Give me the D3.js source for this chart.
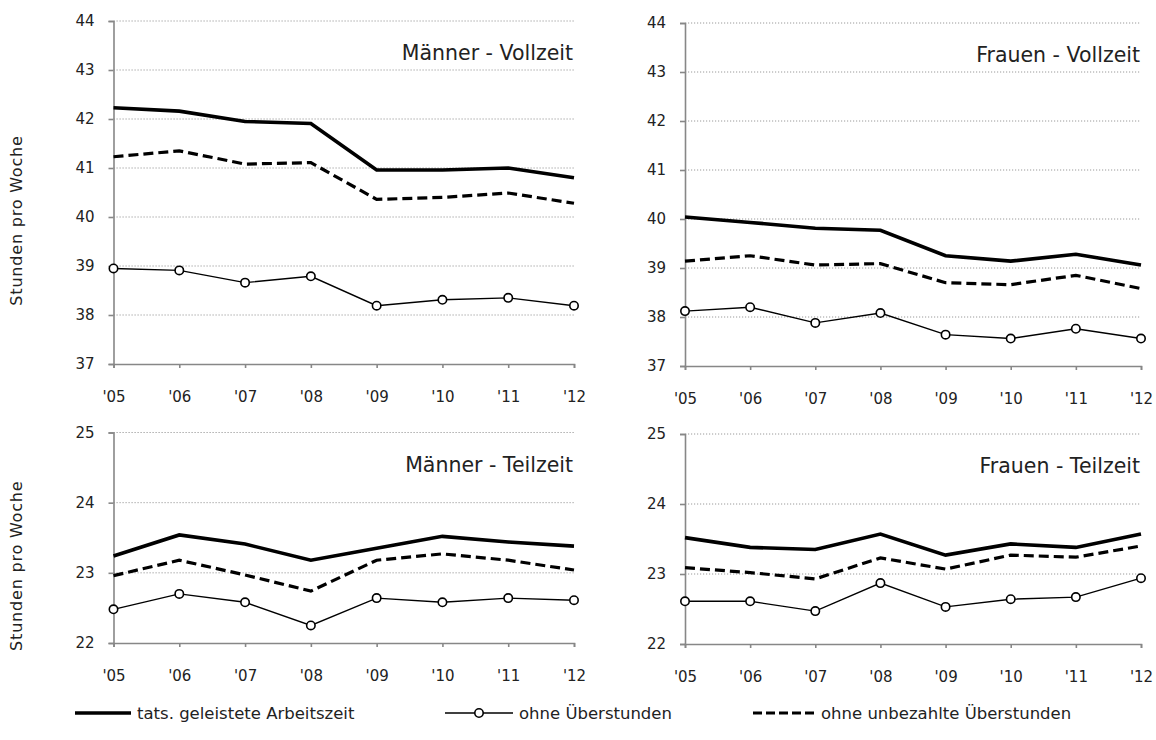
<!DOCTYPE html>
<html><head><meta charset="utf-8">
<script src="https://cdn.jsdelivr.net/npm/d3@7"></script>
<style>
body{margin:0;background:#fff;}
svg{display:block;}
text{font-family:"DejaVu Sans",sans-serif;fill:#222;}
</style></head>
<body><svg id="c" width="1156" height="740"></svg>
<script>
const years = ["'05","'06","'07","'08","'09","'10","'11","'12"];
const seriesNames = ["tats. geleistete Arbeitszeit","ohne Überstunden","ohne unbezahlte Überstunden"];
const yAxisTitle = "Stunden pro Woche";
const panelTitles = ["Männer - Vollzeit","Frauen - Vollzeit","Männer - Teilzeit","Frauen - Teilzeit"];
const vollzeitTicks = [37,38,39,40,41,42,43,44];
const teilzeitTicks = [22,23,24,25];

// Männer - Vollzeit
const mvTats   = [42.23,42.16,41.95,41.91,40.96,40.96,41.00,40.80];
const mvOhneU  = [38.95,38.91,38.66,38.79,38.19,38.31,38.35,38.19];
const mvUnbez  = [41.23,41.35,41.08,41.11,40.36,40.40,40.49,40.28];
// Frauen - Vollzeit
const fvTats   = [40.04,39.93,39.81,39.77,39.25,39.14,39.28,39.06];
const fvOhneU  = [38.12,38.20,37.88,38.08,37.64,37.56,37.76,37.56];
const fvUnbez  = [39.14,39.25,39.06,39.09,38.70,38.66,38.85,38.58];
// Männer - Teilzeit
const mtTats   = [23.24,23.54,23.41,23.18,23.35,23.52,23.44,23.38];
const mtOhneU  = [22.48,22.70,22.58,22.25,22.64,22.58,22.64,22.61];
const mtUnbez  = [22.96,23.18,22.97,22.74,23.18,23.27,23.18,23.04];
// Frauen - Teilzeit
const ftTats   = [23.52,23.38,23.35,23.57,23.27,23.43,23.38,23.57];
const ftOhneU  = [22.61,22.61,22.47,22.87,22.53,22.64,22.67,22.94];
const ftUnbez  = [23.09,23.02,22.93,23.23,23.07,23.27,23.24,23.40];

const panels = [
  {title:panelTitles[0], ticks:vollzeitTicks, tats:mvTats, ohne:mvOhneU, unbez:mvUnbez, x0:113.5, x1:574, yTop:21, yBot:364, yTitle:true},
  {title:panelTitles[1], ticks:vollzeitTicks, tats:fvTats, ohne:fvOhneU, unbez:fvUnbez, x0:685, x1:1141, yTop:23, yBot:366, yTitle:false},
  {title:panelTitles[2], ticks:teilzeitTicks, tats:mtTats, ohne:mtOhneU, unbez:mtUnbez, x0:113.5, x1:574, yTop:432.5, yBot:643, yTitle:true},
  {title:panelTitles[3], ticks:teilzeitTicks, tats:ftTats, ohne:ftOhneU, unbez:ftUnbez, x0:685, x1:1141, yTop:434, yBot:644, yTitle:false}
];

const svg = d3.select("#c");
const axisColor = "#878787";

panels.forEach(p => {
  const g = svg.append("g");
  const x = d3.scalePoint().domain(years).range([p.x0, p.x1]);
  const y = d3.scaleLinear().domain([d3.min(p.ticks), d3.max(p.ticks)]).range([p.yBot, p.yTop]);

  // gridlines
  g.append("g").selectAll("line").data(p.ticks.slice(1)).join("line")
    .attr("x1", p.x0).attr("x2", p.x1)
    .attr("y1", d => y(d)).attr("y2", d => y(d))
    .attr("stroke", "#9a9a9a").attr("stroke-width", 1).attr("stroke-dasharray", "1.2,1.8");

  // y axis
  const ya = g.append("g").attr("transform", `translate(${p.x0},0)`)
    .call(d3.axisLeft(y).tickValues(p.ticks).tickSize(5).tickPadding(14).tickFormat(d3.format("d")));
  ya.select(".domain").attr("stroke", axisColor).attr("stroke-width", 1.6);
  ya.selectAll(".tick line").attr("stroke", axisColor).attr("stroke-width", 1.6);
  ya.selectAll(".tick text").attr("font-size", 15).attr("font-family", '"DejaVu Sans",sans-serif').attr("fill", "#222");

  // x axis
  const xa = g.append("g").attr("transform", `translate(0,${p.yBot})`)
    .call(d3.axisBottom(x).tickSize(4).tickPadding(23));
  xa.select(".domain").attr("stroke", axisColor).attr("stroke-width", 1.6);
  xa.selectAll(".tick line").attr("stroke", axisColor).attr("stroke-width", 1.6);
  xa.selectAll(".tick text").attr("font-size", 15).attr("font-family", '"DejaVu Sans",sans-serif').attr("fill", "#222");

  // lines
  const line = d3.line().x((d,i) => x(years[i])).y(d => y(d));
  g.append("path").datum(p.unbez).attr("d", line).attr("fill","none")
    .attr("stroke","#000").attr("stroke-width",3.2).attr("stroke-dasharray","10,5");
  g.append("path").datum(p.tats).attr("d", line).attr("fill","none")
    .attr("stroke","#000").attr("stroke-width",3.6);
  g.append("path").datum(p.ohne).attr("d", line).attr("fill","none")
    .attr("stroke","#000").attr("stroke-width",1.4);
  g.append("g").selectAll("circle").data(p.ohne).join("circle")
    .attr("cx", (d,i) => x(years[i])).attr("cy", d => y(d)).attr("r", 4.2)
    .attr("fill","#fff").attr("stroke","#000").attr("stroke-width",1.6);

  // title
  g.append("text").attr("x", p.x1 - 1).attr("y", p.yTop + 39)
    .attr("text-anchor","end").attr("font-size", 20.5).text(p.title);

  if (p.yTitle) {
    const cy = (p.yTop + p.yBot) / 2 + 28;
    g.append("text").attr("transform", `translate(22,${cy}) rotate(-90)`)
      .attr("text-anchor","middle").attr("font-size", 16).attr("letter-spacing", 0.8).text(yAxisTitle);
  }
});

// legend
const lg = svg.append("g").attr("transform","translate(0,713)");
const legendItems = [
  {name:seriesNames[0], x0:75, x1:131, type:"tats"},
  {name:seriesNames[1], x0:445, x1:513, type:"ohne"},
  {name:seriesNames[2], x0:753, x1:815, type:"unbez"}
];
legendItems.forEach(it => {
  const l = lg.append("line").attr("x1", it.x0).attr("x2", it.x1).attr("y1",0).attr("y2",0).attr("stroke","#000");
  if (it.type === "tats") l.attr("stroke-width",3.6);
  if (it.type === "unbez") l.attr("stroke-width",3.2).attr("stroke-dasharray","9,4");
  if (it.type === "ohne") {
    l.attr("stroke-width",1.4);
    lg.append("circle").attr("cx",(it.x0+it.x1)/2).attr("cy",0).attr("r",4.2)
      .attr("fill","#fff").attr("stroke","#000").attr("stroke-width",1.6);
  }
  lg.append("text").attr("x", it.x1 + 6).attr("y", 6).attr("font-size", 16.5).text(it.name);
});
</script>
</body></html>
